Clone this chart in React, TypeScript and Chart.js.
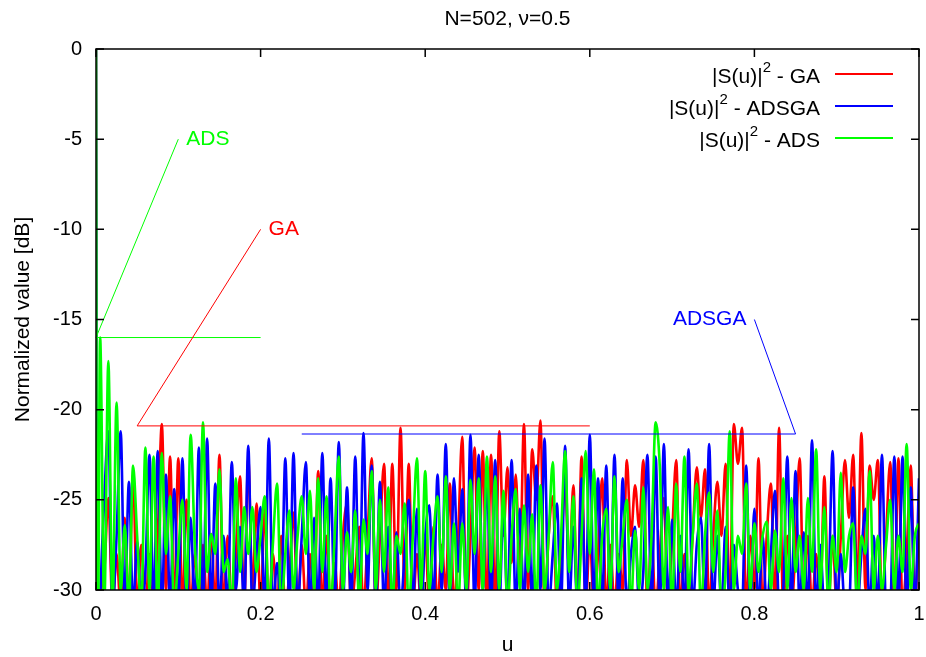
import { useEffect, useRef } from "react";
import { Chart, registerables } from "chart.js";

Chart.register(...registerables);

const FONT = "'Liberation Sans', Arial, sans-serif";

const TITLE = "N=502, \u03bd=0.5";
const X_LABEL = "u";
const Y_LABEL = "Normalized value [dB]";
const X_TICKS = [0, 0.2, 0.4, 0.6, 0.8, 1];
const X_TICK_LABELS = ["0", "0.2", "0.4", "0.6", "0.8", "1"];
const Y_TICKS = [0, -5, -10, -15, -20, -25, -30];
const SERIES_NAMES = ["GA", "ADSGA", "ADS"];
const SERIES_COLORS = ["#ff0000", "#0000ff", "#00ff00"];

// main lobe samples (u, dB), shared by all three patterns
const HEAD_U = [0, 0.0015];
const HEAD_DB = [0, -40];
// sidelobe samples every U_STEP from u = 0.005 to u = 1
const U_STEP = 0.005;

const GA_DB = [
  -31, -29, -24.9, -31, -28, -31, -26, -31, -23.6, -31,
  -27.5, -31, -28, -31, -27, -20.8, -30, -22.6, -31, -22.7,
  -31, -25, -31, -28, -31, -27.5, -31, -26.9, -31, -22.5,
  -31, -27, -31, -28, -23.7, -31, -22.7, -30, -25.2, -31,
  -25.5, -31, -28, -31, -27, -31, -29, -25.7, -31, -27.5,
  -31, -28, -31, -23.4, -31, -27, -31, -28.5, -31, -27,
  -25.2, -31, -29, -26.5, -31, -27, -22.7, -31, -27, -23,
  -31, -23, -30, -21.0, -30, -23, -31, -28, -31, -27,
  -31, -26.5, -31, -27.5, -30, -24.1, -31, -27, -21.5, -31,
  -27, -22.1, -30, -22.3, -31, -22.5, -31, -21.2, -27, -23.2,
  -28.5, -23.6, -29, -20.8, -30, -22.2, -25, -20.6, -31, -27,
  -24.8, -31, -28, -24.1, -29, -24.2, -31, -22.6, -31, -27,
  -31, -28, -23.8, -31, -27.5, -31, -28, -30, -22.8, -27,
  -24.2, -26.5, -22.8, -31, -27, -31, -28, -24.9, -31, -27,
  -22.8, -31, -28, -31, -27, -23.2, -26, -23.3, -31, -27,
  -24, -27, -23, -31, -20.8, -23, -21.0, -31, -27, -30,
  -22.7, -31, -27, -24.1, -31, -21.0, -31, -27, -31, -27.5,
  -22.7, -31, -27, -31, -28, -31, -23.7, -31, -27, -31,
  -27, -22.8, -26, -22.5, -30, -21.3, -30, -23.1, -25, -22.8,
  -31, -27, -22.9, -31, -22.7, -31, -28, -23.1, -31, -25.6,
];

const ADSGA_DB = [
  -31, -25, -21.2, -31, -27, -21.2, -31, -24, -31, -27.3,
  -31, -29, -22.5, -31, -22.3, -31, -23.6, -31, -24.4, -31,
  -22.7, -31, -26, -31, -22.1, -31, -21.6, -31, -24.1, -31,
  -27, -31, -22.9, -30, -26.5, -31, -22, -31, -28, -25.4,
  -31, -21.6, -31, -28.5, -31, -22.7, -31, -22.4, -31, -27,
  -22.9, -31, -26, -31, -22.4, -31, -23.8, -31, -21.8, -31,
  -24.3, -31, -22.6, -31, -21.3, -30, -23.1, -31, -24, -31,
  -26.5, -31, -26.8, -31, -28, -25, -31, -25.5, -31, -27,
  -25.3, -31, -23.6, -30, -21.9, -31, -23.8, -29, -24.4, -31,
  -21.4, -31, -22.5, -30, -23.8, -31, -22.8, -31, -25.4, -31,
  -22.8, -31, -25.5, -31, -23.6, -31, -23.1, -30, -21.6, -31,
  -28, -25.2, -31, -22, -31, -26.5, -31, -23.8, -31, -21.4,
  -31, -23.8, -31, -23.1, -31, -22.5, -31, -23.8, -31, -28,
  -26.5, -31, -29, -22.5, -31, -22.6, -31, -21.9, -31, -26.1,
  -31, -27, -31, -22.2, -31, -27.5, -26, -31, -21.9, -31,
  -27, -31, -26.5, -31, -27.5, -30, -31, -23.1, -31, -25.5,
  -31, -27, -31, -28, -24.5, -31, -30, -22.6, -31, -23.4,
  -31, -26.8, -31, -21.7, -31, -27.5, -31, -30, -22.3, -31,
  -28, -31, -31, -24.3, -31, -28, -25.5, -31, -27, -31,
  -22.5, -31, -31, -22.6, -31, -22.6, -31, -24.3, -31, -23.8,
];

const ADS_DB = [
  -16, -31, -17.3, -31, -19.6, -30, -26.4, -31, -23.1, -27,
  -31, -22.1, -30, -22.6, -31, -22.4, -28, -24.8, -31, -28,
  -25, -30, -21.4, -27.4, -30, -20.7, -29, -26.9, -28, -23.3,
  -29, -28.3, -31, -23.8, -29, -25.4, -28, -25.4, -29, -27,
  -24.8, -31, -27.4, -24.1, -31, -28, -25.6, -30, -27, -24.8,
  -28, -24.5, -30, -23.8, -29, -24.8, -31, -27, -22.6, -30,
  -26.8, -29, -25.6, -31, -26.1, -28, -23.4, -30, -25, -29,
  -24.3, -31, -27, -28, -25.2, -31, -27, -22.7, -30, -23.4,
  -30, -27, -24.8, -29, -23.7, -30, -26.3, -31, -26.3, -30,
  -23.9, -28, -23.8, -30, -22.6, -29, -23.7, -30, -24.5, -31,
  -27, -24.4, -30, -25.3, -29, -25.8, -31, -24.2, -30, -27,
  -22.9, -30, -27, -22.3, -29, -24.8, -31, -27, -22.3, -28,
  -23.3, -31, -27, -25.5, -30, -23.7, -29, -27, -25, -31,
  -26.7, -30, -24.3, -30, -27, -20.7, -23.1, -30, -25.4, -31,
  -24.1, -29, -22.6, -30, -27, -24.1, -31, -27, -24.6, -29,
  -25.6, -31, -29, -21.2, -30, -27, -28, -24.1, -30, -26.3,
  -29, -27, -26.2, -30, -26.7, -29, -23.8, -30, -24.9, -29,
  -27, -30, -24.9, -29, -22.2, -30, -25.4, -31, -27, -29,
  -23.5, -29, -27, -26.3, -31, -27, -28, -23.4, -30, -27,
  -30, -27.5, -25, -30, -27, -29, -21.9, -30, -27, -26.3,
];

// annotation polylines: label anchor, corner, end (u, dB)
const ADS_MARK_U = [0.1, 0, 0.2];
const ADS_MARK_DB = [-5, -16, -16];
const GA_MARK_U = [0.2, 0.05, 0.6];
const GA_MARK_DB = [-10, -20.9, -20.9];
const ADSGA_MARK_U = [0.8, 0.85, 0.25];
const ADSGA_MARK_DB = [-15, -21.35, -21.35];

function buildPoints(db: number[]) {
  const pts = HEAD_U.map((u, i) => ({ x: u, y: HEAD_DB[i] }));
  db.forEach((v, i) => pts.push({ x: +((i + 1) * U_STEP).toFixed(4), y: v }));
  return pts;
}

const TICK_LEN = 8;

const decorPlugin = {
  id: "decor",
  afterDatasetsDraw(chart: any) {
    const { ctx, chartArea: a, scales } = chart;
    const xs = scales.x;
    const ys = scales.y;
    ctx.save();

    // annotations
    const marks = [
      { name: "ADS", u: ADS_MARK_U, db: ADS_MARK_DB, color: SERIES_COLORS[2], align: "left" },
      { name: "GA", u: GA_MARK_U, db: GA_MARK_DB, color: SERIES_COLORS[0], align: "left" },
      { name: "ADSGA", u: ADSGA_MARK_U, db: ADSGA_MARK_DB, color: SERIES_COLORS[1], align: "right" },
    ];
    ctx.lineWidth = 1;
    marks.forEach((m) => {
      ctx.strokeStyle = m.color;
      ctx.beginPath();
      m.u.forEach((u, i) => {
        const px = xs.getPixelForValue(u);
        const py = ys.getPixelForValue(m.db[i]);
        if (i === 0) ctx.moveTo(px, py);
        else ctx.lineTo(px, py);
      });
      ctx.stroke();
      ctx.fillStyle = m.color;
      ctx.font = `21px ${FONT}`;
      ctx.textBaseline = "middle";
      ctx.textAlign = m.align;
      const lx = xs.getPixelForValue(m.u[0]) + (m.align === "left" ? 8 : -8);
      const ly = ys.getPixelForValue(m.db[0]);
      ctx.fillText(m.name, lx, ly);
    });

    // frame
    ctx.strokeStyle = "#000";
    ctx.lineWidth = 1.5;
    ctx.strokeRect(a.left, a.top, a.right - a.left, a.bottom - a.top);
    ctx.beginPath();
    X_TICKS.forEach((v) => {
      const px = xs.getPixelForValue(v);
      ctx.moveTo(px, a.bottom);
      ctx.lineTo(px, a.bottom - TICK_LEN);
      ctx.moveTo(px, a.top);
      ctx.lineTo(px, a.top + TICK_LEN);
    });
    Y_TICKS.forEach((v) => {
      const py = ys.getPixelForValue(v);
      ctx.moveTo(a.left, py);
      ctx.lineTo(a.left + TICK_LEN, py);
      ctx.moveTo(a.right, py);
      ctx.lineTo(a.right - TICK_LEN, py);
    });
    ctx.stroke();

    // titles
    ctx.fillStyle = "#000";
    ctx.font = `21px ${FONT}`;
    ctx.textAlign = "center";
    ctx.textBaseline = "alphabetic";
    const cx = (a.left + a.right) / 2;
    ctx.fillText(TITLE, cx, 25);
    ctx.fillText(X_LABEL, cx, 651);
    ctx.save();
    ctx.translate(29, (a.top + a.bottom) / 2);
    ctx.rotate(-Math.PI / 2);
    ctx.fillText(Y_LABEL, 0, 0);
    ctx.restore();

    // legend
    const rowY = [74, 106, 138];
    SERIES_NAMES.forEach((name, i) => {
      const base = rowY[i] + 9;
      const mainFont = `21px ${FONT}`;
      const supFont = `15px ${FONT}`;
      const p1 = "|S(u)|";
      const p2 = "2";
      const p3 = " - " + name;
      ctx.font = mainFont;
      const w1 = ctx.measureText(p1).width;
      const w3 = ctx.measureText(p3).width;
      ctx.font = supFont;
      const w2 = ctx.measureText(p2).width;
      const right = 820;
      let x = right - (w1 + w2 + w3);
      ctx.textAlign = "left";
      ctx.textBaseline = "alphabetic";
      ctx.fillStyle = "#000";
      ctx.font = mainFont;
      ctx.fillText(p1, x, base);
      x += w1;
      ctx.font = supFont;
      ctx.fillText(p2, x, base - 11);
      x += w2;
      ctx.font = mainFont;
      ctx.fillText(p3, x, base);
      ctx.strokeStyle = SERIES_COLORS[i];
      ctx.lineWidth = 2;
      ctx.beginPath();
      ctx.moveTo(835, rowY[i]);
      ctx.lineTo(893, rowY[i]);
      ctx.stroke();
    });

    ctx.restore();
  },
};

export default function App() {
  const ref = useRef<HTMLCanvasElement>(null);
  useEffect(() => {
    if (!ref.current) return;
    const seriesDb = [GA_DB, ADSGA_DB, ADS_DB];
    const chart = new Chart(ref.current, {
      type: "line",
      data: {
        datasets: SERIES_NAMES.map((name, i) => ({
          label: "|S(u)|^2 - " + name,
          data: buildPoints(seriesDb[i]),
          borderColor: SERIES_COLORS[i],
          backgroundColor: SERIES_COLORS[i],
          borderWidth: 2.6,
          pointRadius: 0,
          fill: false,
          cubicInterpolationMode: "monotone",
          order: 3 - i,
        })),
      },
      options: {
        animation: false,
        responsive: false,
        devicePixelRatio: 1,
        layout: { padding: { left: 0, right: 7, top: 49, bottom: 0 } },
        plugins: {
          legend: { display: false },
          title: { display: false },
          tooltip: { enabled: false },
        },
        scales: {
          x: {
            type: "linear",
            min: 0,
            max: 1,
            grid: { display: false, drawTicks: false },
            border: { display: false },
            ticks: {
              stepSize: 0.2,
              padding: 12,
              color: "#000",
              font: { family: FONT, size: 20 },
              maxRotation: 0,
              autoSkip: false,
              callback: (_v: any, i: number) => X_TICK_LABELS[i],
            },
            afterFit: (s: any) => {
              s.height = 67;
              s.paddingLeft = 0;
              s.paddingRight = 0;
            },
          },
          y: {
            type: "linear",
            min: -30,
            max: 0,
            grid: { display: false, drawTicks: false },
            border: { display: false },
            ticks: {
              stepSize: 5,
              padding: 14,
              color: "#000",
              font: { family: FONT, size: 20 },
              autoSkip: false,
            },
            afterFit: (s: any) => {
              s.width = 96;
              s.paddingTop = 0;
              s.paddingBottom = 0;
            },
          },
        },
      } as any,
      plugins: [decorPlugin],
    });
    return () => chart.destroy();
  }, []);
  return (
    <div style={{ position: "fixed", left: 0, top: 0, width: 926, height: 657, background: "#fff" }}>
      <canvas ref={ref} width={926} height={657} style={{ display: "block" }} />
    </div>
  );
}
